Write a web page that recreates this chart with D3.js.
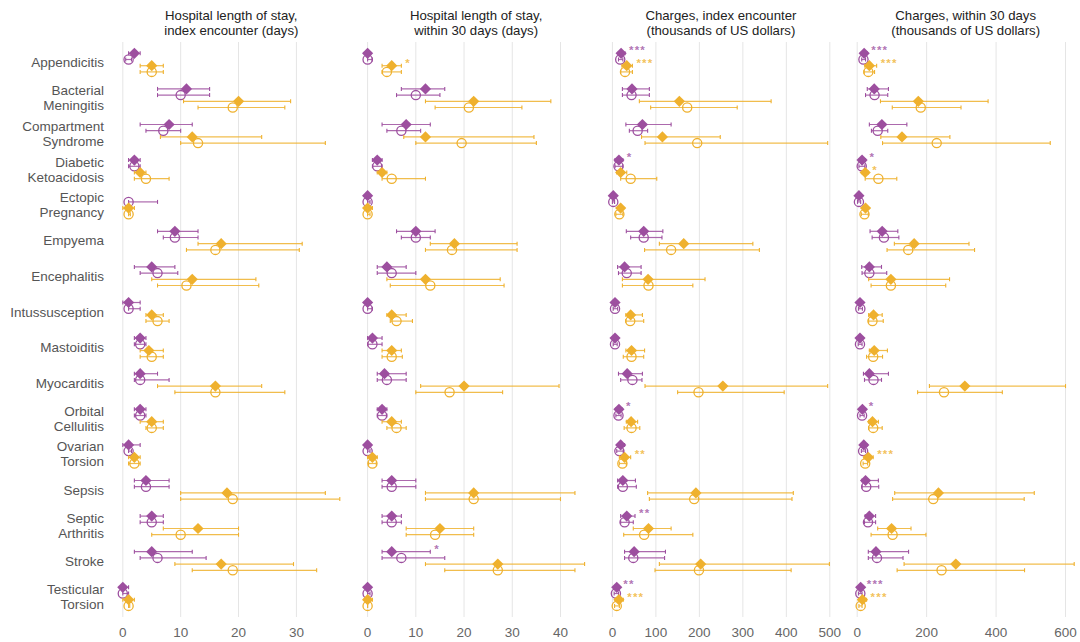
<!DOCTYPE html>
<html>
<head>
<meta charset="utf-8">
<script src="https://cdn.jsdelivr.net/npm/d3@7"></script>
<style>
  body { margin: 0; background: #fff; }
  text { font-family: "Liberation Sans", Arial, sans-serif; }
</style>
</head>
<body>
<svg id="chart" width="1080" height="642"></svg>
<script>
// Conditions, top to bottom ("\n" splits a label over two lines)
const conditions = [
  "Appendicitis", "Bacterial\nMeningitis", "Compartment\nSyndrome", "Diabetic\nKetoacidosis",
  "Ectopic\nPregnancy", "Empyema", "Encephalitis", "Intussusception", "Mastoiditis",
  "Myocarditis", "Orbital\nCellulitis", "Ovarian\nTorsion", "Sepsis", "Septic\nArthritis",
  "Stroke", "Testicular\nTorsion"
];

// Each entry: [estimate, lower, upper]; null = not reported.
// Purple group: filled diamond / open circle. Orange group: filled diamond / open circle.

// Hospital length of stay, index encounter (days)
const losIndexPurpleDiamond = [[2,1,3],[11,6,15],[8,3,12],[2,1,3],null,[9,6,13],[5,2,9],[1,0,3],[3,2,4],[3,2,6],[3,2,4],[1,0,3],[4,2,8],[5,3,7],[5,2,12],[0,0,1]];
const losIndexPurpleCircle  = [[1,0.5,1.5],[10,6,15],[7,4,10],[2,1,3],[1,1,6],[9,7,13],[6,3,9.5],[1,1,3],[3,2,4],[3,2,8],[3,2,4],[1,1,1.5],[4,2,8],[5,3,7],[6,3,14.4],[0,0,1]];
const losIndexOrangeDiamond = [[5,3,7],[20,10.5,29],[12,6.5,24],[3,2,4],[1,0,2],[17,13,31],[12,5,23],[5,4,7],[4.5,3,7],[16,6,24],[5,3,7],[2,1,3],[18,10,35],[13,7,20],[17,9,29.5],[1,0,2]];
const losIndexOrangeCircle  = [[5,3,7],[19,13,28],[13,10,35],[4,2,8],[1,1,1.3],[16,11,30.5],[11,6,23.5],[6,4,8],[5,3,7],[16,9,28],[5,4,7],[2,1,3],[19,10,37.5],[10,5,20],[19,12,33.5],[1,1,1.2]];

// Hospital length of stay, within 30 days (days)
const los30PurpleDiamond = [[0,0,0.5],[12,7,16],[8,3,13],[2,1,3],[0,0,0],[10,6,14],[4,2,8],[0,0,0.5],[1,0,3],[3.5,2,8],[3,2,4],[0,0,0.5],[5,3,10],[5,3,7],[5,3,13],[0,0,0.5]];
const los30PurpleCircle  = [[0,0,1],[10,6,15],[7,4,11],[2,1,3],[0,0,0.5],[10,7,13],[5,2,10],[0,0,1],[1,0,3],[4,2,8],[3,2,4],[0,0,0.5],[5,3,10],[5,3,7],[7,3,16],[0,0,0.5]];
const los30OrangeDiamond = [[5,3,7],[22,12,38],[12,7.5,34.5],[3,2,4],[0,0,1],[18,13,31],[12,4,27.5],[5,4,8],[5,3,7],[20,11,39.7],[5,3,7],[1,0,2],[22,12,43],[15,8,22],[27,12,45],[0,0,1]];
const los30OrangeCircle  = [[4,3,7],[21,14,32],[19.5,10,35],[5,3,12],[0,0,0.5],[17.5,12,31],[13,4.7,28.3],[6,4.7,9.3],[5,3,7.2],[17,10,28],[6,4,8],[1,0.2,1.8],[22,12,40],[14,8,22],[27,16,43],[0,0,0]];

// Charges, index encounter (thousands of US dollars)
const chargesIndexPurpleDiamond = [[20,14,29],[45,23,85],[69,31,135],[15,6,24],[2,0,6],[72,32,116],[28,12,66],[6,2,12],[6,2,12],[34,14,69],[15,8,22],[19,12,28],[24,12,53],[33,19,52],[50,28,122],[10,5,16]];
const chargesIndexPurpleCircle  = [[18,14,24],[44,23,85],[58,39,81],[14,6,24],[2,0,5],[72,42,114],[33,14,66],[6,2,12],[6,2,11],[46,19,68],[14,8,20],[16,10,25],[24,12,55],[28,19,48],[48,28,120],[8,4,14]];
const chargesIndexOrangeDiamond = [[33,22,46],[154,62,365],[115,67,248],[19,10,33],[19,14,24],[164,108,323],[82,23,213],[42,31,69],[44,31,74],[254,75,495],[43,32,58],[28,16,42],[192,81,416],[83,48,135],[203,108,499],[15,6,25]];
const chargesIndexOrangeCircle  = [[29,19,46],[172,88,287],[195,75,495],[42,19,102],[16,8,24],[135,74,338],[83,23,185],[41,31,72],[44,25,72],[198,150,395],[44,27,63],[23,16,32],[188,85,413],[73,26,185],[199,98,411],[10,5,16]];

// Charges, within 30 days (thousands of US dollars)
const charges30PurpleDiamond = [[20,14,29],[49,29,90],[71,35,143],[14,6,24],[5,1,10],[72,37,117],[35,13,70],[8,3,14],[8,3,14],[35,18,90],[15,8,22],[19,12,28],[24,14,61],[35,23,53],[54,32,148],[10,5,16]];
const charges30PurpleCircle  = [[18,13,24],[50,24,88],[59,41,88],[13,5,22],[5,1,10],[77,43,120],[35,14,85],[9,4,15],[8,3,14],[47,21,70],[14,8,20],[17,12,24],[26,14,62],[31,21,53],[57,32,132],[9,4,14]];
const charges30OrangeDiamond = [[35,22,56],[176,67,377],[129,68,267],[23,14,32],[24,16,32],[164,107,322],[97,33,266],[47,33,72],[49,35,87],[310,208,600],[44,33,61],[32,19,46],[234,108,510],[99,59,155],[284,135,625],[15,5,27]];
const charges30OrangeCircle  = [[32,20,50],[183,101,299],[229,73,556],[61,23,114],[21,12,32],[147,86,338],[97,40,255],[44,33,75],[46,27,73],[250,174,418],[46,33,72],[23,17,30],[219,102,481],[102,40,198],[243,115,482],[10,5,14]];

// Significance markers: [condition, group, label]
const losIndexStars = [];
const los30Stars = [["Appendicitis","orange","*"],["Stroke","purple","*"]];
const chargesIndexStars = [
  ["Appendicitis","purple","***"],["Appendicitis","orange","***"],
  ["Diabetic\nKetoacidosis","purple","*"],["Orbital\nCellulitis","purple","*"],
  ["Ovarian\nTorsion","orange","**"],["Septic\nArthritis","purple","**"],
  ["Testicular\nTorsion","purple","**"],["Testicular\nTorsion","orange","***"]
];
const charges30Stars = [
  ["Appendicitis","purple","***"],["Appendicitis","orange","***"],
  ["Diabetic\nKetoacidosis","purple","*"],["Diabetic\nKetoacidosis","orange","*"],
  ["Orbital\nCellulitis","purple","*"],["Ovarian\nTorsion","orange","***"],
  ["Testicular\nTorsion","purple","***"],["Testicular\nTorsion","orange","***"]
];

// Axis ticks per panel
const losIndexTicks = [0, 10, 20, 30];
const los30Ticks = [0, 10, 20, 30, 40];
const chargesIndexTicks = [0, 100, 200, 300, 400, 500];
const charges30Ticks = [0, 200, 400, 600];

const panels = [
  { title: ["Hospital length of stay,", "index encounter (days)"], ticks: losIndexTicks, stars: losIndexStars,
    series: [losIndexPurpleDiamond, losIndexPurpleCircle, losIndexOrangeDiamond, losIndexOrangeCircle] },
  { title: ["Hospital length of stay,", "within 30 days (days)"], ticks: los30Ticks, stars: los30Stars,
    series: [los30PurpleDiamond, los30PurpleCircle, los30OrangeDiamond, los30OrangeCircle] },
  { title: ["Charges, index encounter", "(thousands of US dollars)"], ticks: chargesIndexTicks, stars: chargesIndexStars,
    series: [chargesIndexPurpleDiamond, chargesIndexPurpleCircle, chargesIndexOrangeDiamond, chargesIndexOrangeCircle] },
  { title: ["Charges, within 30 days", "(thousands of US dollars)"], ticks: charges30Ticks, stars: charges30Stars,
    series: [charges30PurpleDiamond, charges30PurpleCircle, charges30OrangeDiamond, charges30OrangeCircle] }
];

const PURPLE = "#9d4f9f";
const ORANGE = "#efb12e";
const seriesStyle = [
  { color: PURPLE, shape: "diamond", dy: -9.3 },
  { color: PURPLE, shape: "circle",  dy: -3.1 },
  { color: ORANGE, shape: "diamond", dy:  3.1 },
  { color: ORANGE, shape: "circle",  dy:  9.3 }
];

const svg = d3.select("#chart");
svg.append("rect").attr("width", 1080).attr("height", 642).attr("fill", "#fff");

const y = d3.scalePoint().domain(conditions).range([62.6, 596.6]);
const plotTop = 42, plotBottom = 617;
const panelLeft0 = 122.8, panelStep = 244.8, panelWidth = 217;

// Row labels
const rowLabels = svg.append("g");
conditions.forEach(c => {
  const lines = c.split("\n");
  const t = rowLabels.append("text")
    .attr("x", 104).attr("y", y(c))
    .attr("text-anchor", "end")
    .attr("font-size", 13.5).attr("fill", "#555");
  lines.forEach((ln, i) => {
    t.append("tspan").attr("x", 104)
      .attr("y", y(c) + (i - (lines.length - 1) / 2) * 15 + 4.7)
      .text(ln);
  });
});

panels.forEach((p, pi) => {
  const x0 = panelLeft0 + pi * panelStep;
  const maxHi = d3.max(p.series.flat().filter(d => d), d => d[2]);
  const x = d3.scaleLinear().domain([0, maxHi]).range([x0, x0 + panelWidth]);
  const g = svg.append("g");

  // grid
  g.selectAll("line.grid").data(p.ticks).join("line")
    .attr("x1", d => x(d)).attr("x2", d => x(d))
    .attr("y1", plotTop).attr("y2", plotBottom)
    .attr("stroke", "#e5e5e5").attr("stroke-width", 1);

  // tick labels
  g.selectAll("text.tick").data(p.ticks).join("text")
    .attr("x", d => x(d)).attr("y", 637)
    .attr("text-anchor", "middle").attr("font-size", 13.5).attr("fill", "#666")
    .text(d => d);

  // title
  const cx = x0 + panelWidth / 2;
  p.title.forEach((ln, i) => {
    g.append("text").attr("x", cx).attr("y", 19.5 + i * 15)
      .attr("text-anchor", "middle").attr("font-size", 13.2).attr("fill", "#222")
      .text(ln);
  });

  // series
  p.series.forEach((arr, si) => {
    const st = seriesStyle[si];
    const rows = conditions.map((c, i) => ({ c, v: arr[i] })).filter(d => d.v);
    const sg = g.append("g");
    rows.forEach(({ c, v }) => {
      const yy = y(c) + st.dy;
      const [m, lo, hi] = v;
      sg.append("line").attr("x1", x(lo)).attr("x2", x(hi)).attr("y1", yy).attr("y2", yy)
        .attr("stroke", st.color).attr("stroke-width", 1.2).attr("stroke-opacity", 0.85);
      [lo, hi].forEach(e => {
        sg.append("line").attr("x1", x(e)).attr("x2", x(e)).attr("y1", yy - 2).attr("y2", yy + 2)
          .attr("stroke", st.color).attr("stroke-width", 1.1);
      });
      if (st.shape === "diamond") {
        const r = 5.6, cxm = x(m);
        sg.append("path")
          .attr("d", `M${cxm},${yy - r}L${cxm + r},${yy}L${cxm},${yy + r}L${cxm - r},${yy}Z`)
          .attr("fill", st.color);
      } else {
        sg.append("circle").attr("cx", x(m)).attr("cy", yy).attr("r", 4.6)
          .attr("fill", "none").attr("stroke", st.color).attr("stroke-width", 1.3);
      }
    });
  });

  // significance stars, placed just past the filled marker's upper bound
  p.stars.forEach(([c, grp, label]) => {
    const si = grp === "purple" ? 0 : 2;
    const v = p.series[si][conditions.indexOf(c)];
    const yy = y(c) + seriesStyle[si].dy;
    g.append("text").attr("x", x(v[2]) + 4).attr("y", yy + 1)
      .attr("font-size", 11.5).attr("font-weight", "bold")
      .attr("letter-spacing", 1.2)
      .attr("fill", seriesStyle[si].color).attr("fill-opacity", 0.8)
      .text(label);
  });
});
</script>
</body>
</html>
